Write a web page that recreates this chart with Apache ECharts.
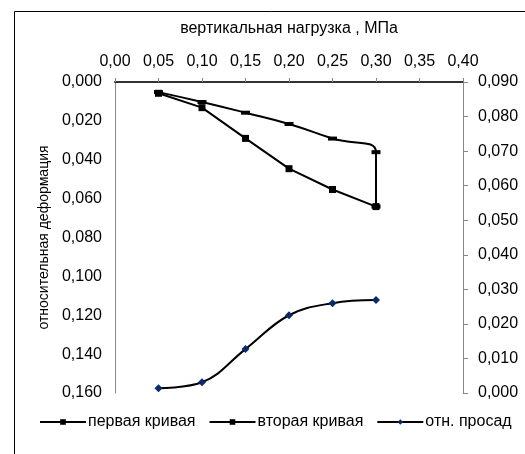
<!DOCTYPE html>
<html><head><meta charset="utf-8">
<script src="https://cdn.jsdelivr.net/npm/echarts@6/dist/echarts.min.js"></script>
<style>html,body{margin:0;padding:0;background:#fff}#c{width:525px;height:454px}</style>
</head><body><div id="c"></div>
<script>
// Data
const loadX = [0.05, 0.10, 0.15, 0.20, 0.25, 0.30, 0.30];
const firstCurve = [0.0052, 0.0103, 0.0158, 0.0216, 0.0291, 0.0361, 0.0641];
const secondX = [0.05, 0.10, 0.15, 0.20, 0.25, 0.30];
const secondCurve = [0.0058, 0.0132, 0.0290, 0.0446, 0.0553, 0.0641];
const sagX = [0.05, 0.10, 0.15, 0.20, 0.25, 0.30];
const sagCurve = [0.0014, 0.0031, 0.0127, 0.0225, 0.0260, 0.0269];
const seriesNames = ['первая кривая', 'вторая кривая', 'отн. просад'];
const xTitle = 'вертикальная нагрузка , МПа';
const yTitle = 'относительная деформация';

const pair = (xs, ys) => xs.map((x, i) => [x, ys[i]]);
const comma = d => v => v.toFixed(d).replace('.', ',');
const FONT = 'Liberation Sans, Arial, sans-serif';
const FS = 16;

const chart = echarts.init(document.getElementById('c'), null, {renderer: 'canvas'});
chart.setOption({
  animation: false,
  backgroundColor: '#fff',
  textStyle: {fontFamily: FONT},
  graphic: [{
    type: 'rect', left: 12, top: 9, silent: true,
    shape: {x: 0.5, y: 0.5, width: 700, height: 700},
    style: {fill: 'none', stroke: '#000', lineWidth: 1}
  }],
  grid: {left: 115, top: 82, width: 348, height: 311},
  legend: {
    left: 34, top: 409, width: 2000, itemWidth: 46, itemHeight: 7, itemGap: 13,
    textStyle: {fontFamily: FONT, fontSize: FS, color: '#000', padding: [0, 0, 0, -3]},
    data: seriesNames
  },
  xAxis: {
    type: 'value', position: 'top', min: 0, max: 0.4, interval: 0.05,
    name: xTitle, nameLocation: 'middle', nameGap: 45,
    nameTextStyle: {fontFamily: FONT, fontSize: FS, color: '#000'},
    axisLine: {show: true, lineStyle: {color: '#333', width: 2}},
    axisTick: {show: true, inside: false, length: 4, lineStyle: {color: '#888'}},
    axisLabel: {formatter: comma(2), fontFamily: FONT, fontSize: FS, color: '#000', margin: 12},
    splitLine: {show: false}
  },
  yAxis: [{
    type: 'value', inverse: true, min: 0, max: 0.16, interval: 0.02, position: 'left',
    name: yTitle, nameLocation: 'middle', nameRotate: 90, nameGap: 58,
    nameTextStyle: {fontFamily: FONT, fontSize: 14, color: '#000'},
    axisLine: {show: true, lineStyle: {color: '#888', width: 1}},
    axisTick: {show: false},
    axisLabel: {formatter: comma(3), fontFamily: FONT, fontSize: FS, color: '#000', margin: 13},
    splitLine: {show: false}
  }, {
    type: 'value', min: 0, max: 0.09, interval: 0.01, position: 'right',
    axisLine: {show: true, lineStyle: {color: '#888', width: 1}},
    axisTick: {show: true, inside: false, length: 5, lineStyle: {color: '#888'}},
    axisLabel: {formatter: comma(3), fontFamily: FONT, fontSize: FS, color: '#000', margin: 15},
    splitLine: {show: false}
  }],
  series: [{
    name: seriesNames[0], type: 'line', yAxisIndex: 0, smooth: 0.5,
    data: pair(loadX, firstCurve),
    symbol: 'rect', symbolSize: [9, 4], showAllSymbol: true,
    lineStyle: {color: '#000', width: 2}, itemStyle: {color: '#000'}
  }, {
    name: seriesNames[1], type: 'line', yAxisIndex: 0, smooth: false,
    data: pair(secondX, secondCurve),
    symbol: 'rect', symbolSize: 7, showAllSymbol: true,
    lineStyle: {color: '#000', width: 2}, itemStyle: {color: '#000'}
  }, {
    name: seriesNames[2], type: 'line', yAxisIndex: 1, smooth: 0.4,
    data: pair(sagX, sagCurve),
    symbol: 'diamond', symbolSize: 8, showAllSymbol: true,
    lineStyle: {color: '#000', width: 2}, itemStyle: {color: '#0b2a6b'}
  }]
});
</script></body></html>
